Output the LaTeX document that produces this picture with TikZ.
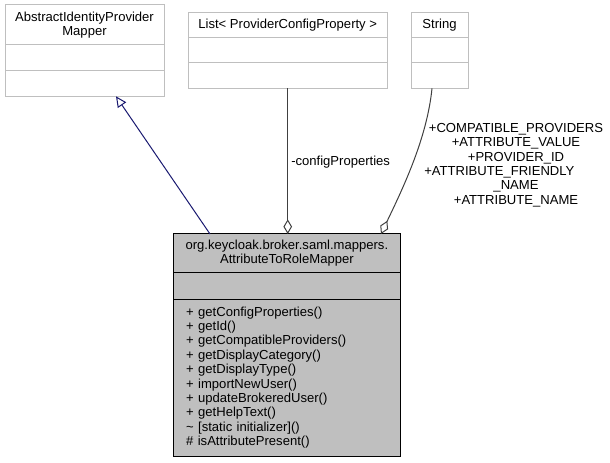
\documentclass[tikz,border=0pt]{standalone}
\usepackage{fontspec}
\setmainfont{Liberation Sans}
\usepackage{tikz}
\usetikzlibrary{arrows.meta,calc,positioning}
\definecolor{ugrey}{HTML}{BFBFBF}
\definecolor{uedge}{HTML}{404040}
\definecolor{unavy}{HTML}{191970}
\newcommand{\umlsize}{\fontsize{9.8pt}{10.8pt}\selectfont}
\tikzset{
  ubox/.style={draw=ugrey, fill=white, line width=0.75pt, inner sep=0pt,
               outer sep=0pt, font=\umlsize, align=center},
  umain/.style={draw=black, fill=ugrey, line width=0.75pt, inner sep=0pt,
                outer sep=0pt, font=\umlsize, align=center},
  uinherit/.style={-{Triangle[open, length=8pt, width=7.5pt]}, draw=unavy,
                   line width=0.75pt},
  ucomp/.style={-{Diamond[open, length=11pt, width=6.5pt]}, draw=uedge,
                line width=0.75pt},
  ulbl/.style={font=\umlsize, align=center, inner sep=0pt},
}

\begin{document}
\begin{tikzpicture}[x=0.75pt, y=-0.75pt]
  \useasboundingbox (0,0) rectangle (610,463);

  % --- base class ---
  \node[ubox, anchor=north west, minimum width=119.25pt, minimum height=30pt]
    (apm) at (5,5) {AbstractIdentityProvider\\Mapper};
  \node[ubox, below=0pt of apm, minimum width=119.25pt, minimum height=19.5pt] (apmattr) {};
  \node[ubox, below=0pt of apmattr, minimum width=119.25pt, minimum height=19pt] (apmops) {};

  % --- List< ProviderConfigProperty > ---
  \node[ubox, anchor=north west, minimum width=149.6pt, minimum height=18.75pt]
    (list) at (188,13) {List< ProviderConfigProperty >};
  \node[ubox, below=0pt of list, minimum width=149.6pt, minimum height=18.75pt] (listattr) {};
  \node[ubox, below=0pt of listattr, minimum width=149.6pt, minimum height=19pt] (listops) {};

  % --- String ---
  \node[ubox, anchor=north west, minimum width=42.75pt, minimum height=18.75pt]
    (str) at (411,13) {String};
  \node[ubox, below=0pt of str, minimum width=42.75pt, minimum height=18.75pt] (strattr) {};
  \node[ubox, below=0pt of strattr, minimum width=42.75pt, minimum height=19pt] (strops) {};

  % --- AttributeToRoleMapper ---
  \node[umain, anchor=north west, minimum width=170.8pt, minimum height=29pt]
    (main) at (173,234) {org.keycloak.broker.saml.mappers.\\AttributeToRoleMapper};
  \node[umain, below=0pt of main, minimum width=170.8pt, minimum height=19.75pt] (mainattr) {};
  \node[umain, below=0pt of mainattr, minimum width=170.8pt, minimum height=117.75pt,
        text width=151pt, align=left] (mainops)
    {+ getConfigProperties()\\+ getId()\\+ getCompatibleProviders()\\
     + getDisplayCategory()\\+ getDisplayType()\\+ importNewUser()\\
     + updateBrokeredUser()\\+ getHelpText()\\\textasciitilde{} [static initializer]()\\
     \# isAttributePresent()};

  % --- relations ---
  \draw[uinherit] ($(main.north west)+(37,0)$) -- ($(apmops.south west)+(111,0)$);
  \draw[ucomp] (listops.south) -- (listops.south |- main.north);
  \draw[ucomp] ($(strops.south west)+(21,0)$) .. controls +(-5,50) and +(22,-46)
    .. ($(main.north west)+(208,0)$);

  \node[ulbl, anchor=west] (cplbl) at (291,162) {-configProperties};
  \node[ulbl] (strlbl) at (516,165)
    {+COMPATIBLE\_PROVIDERS\\+ATTRIBUTE\_VALUE\\+PROVIDER\_ID\\
     +ATTRIBUTE\_FRIENDLY\rule{25pt}{0pt}\\\_NAME\\+ATTRIBUTE\_NAME};

\end{tikzpicture}
\end{document}
